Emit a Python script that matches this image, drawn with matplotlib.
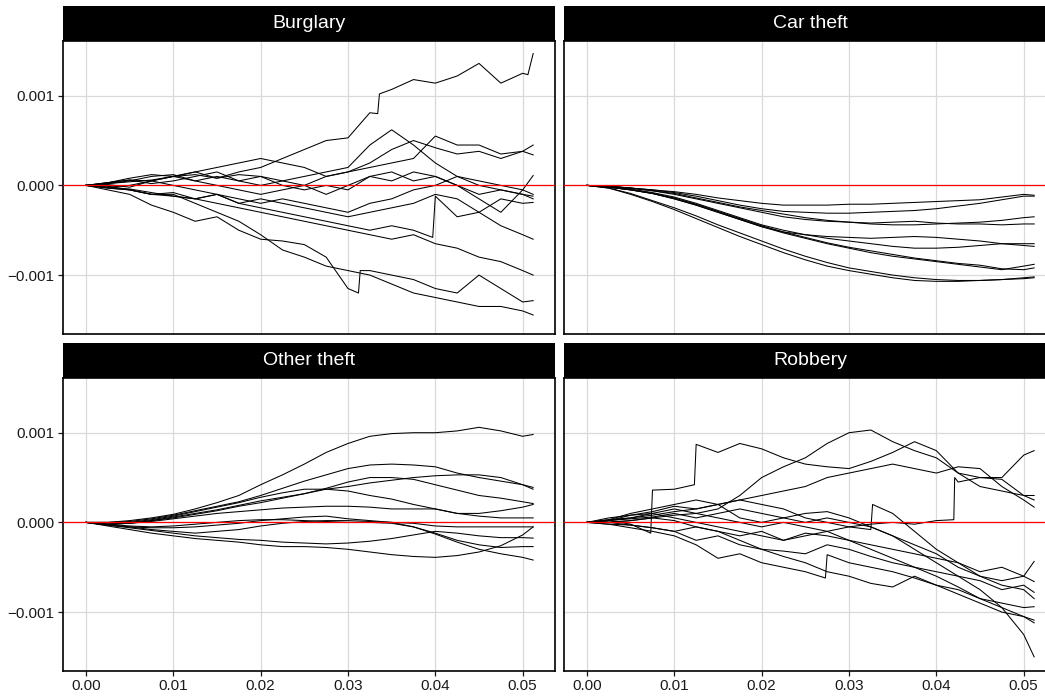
import matplotlib
matplotlib.use("Agg")
import matplotlib.pyplot as plt

plt.rcParams['font.family'] = ['Liberation Sans', 'DejaVu Sans']

# ---------------- data (y values in units of 0.001) ----------------
Y_UNIT = 1e-3
x_grid = [0.0, 0.0025, 0.005, 0.0075, 0.01, 0.0125, 0.015, 0.0175, 0.02, 0.0225,
          0.025, 0.0275, 0.03, 0.0325, 0.035, 0.0375, 0.04, 0.0425, 0.045, 0.0475,
          0.05, 0.0512]

panel_titles = ["Burglary", "Car theft", "Other theft", "Robbery"]

burglary = [
    [0, .03, .06, .05, .10, .12, .08, .15, .20, .30, .40, .50, .53, .81, 1.07, 1.18, 1.14, 1.22, 1.36, 1.14, 1.25, 1.47],
    [0, .02, .04, .06, .10, .15, .20, .25, .30, .25, .20, .10, .15, .25, .40, .50, .42, .35, .38, .30, .38, .45],
    [0, .02, .05, .10, .12, .05, .10, .05, .00, .05, .10, .15, .20, .45, .62, .45, .25, .10, .00, -.05, -.10, -.12],
    [0, .03, .08, .12, .10, .05, .00, -.05, -.10, -.05, .00, .10, .15, .20, .25, .30, .55, .45, .45, .35, .38, .34],
    [0, .01, -.02, .05, .10, .15, .08, .12, .10, .05, .00, -.10, .00, .10, .05, .15, .10, .00, -.15, -.30, -.05, .11],
    [0, -.02, .00, .05, .00, -.05, -.10, -.15, -.20, -.15, -.20, -.25, -.30, -.20, -.15, -.05, .00, .10, .05, .00, -.05, -.10],
    [0, .03, .06, .02, .05, .10, .15, .05, .10, .00, -.05, .00, -.05, .10, .15, .05, .10, .00, -.10, -.05, -.10, -.15],
    [0, -.01, -.05, -.10, -.08, -.15, -.10, -.20, -.25, -.30, -.35, -.40, -.45, -.50, -.45, -.50, -.12, -.35, -.30, -.15, -.20, -.19],
    [0, -.02, -.04, -.08, -.12, -.15, -.10, -.20, -.15, -.20, -.25, -.30, -.35, -.30, -.25, -.20, -.10, -.15, -.30, -.45, -.55, -.60],
    [0, -.03, -.05, -.10, -.12, -.15, -.20, -.25, -.30, -.35, -.40, -.45, -.50, -.55, -.60, -.55, -.65, -.70, -.80, -.85, -.95, -1.00],
    [0, -.05, -.10, -.22, -.30, -.40, -.35, -.50, -.60, -.62, -.66, -.80, -1.15, -.95, -1.00, -1.05, -1.15, -1.20, -1.00, -1.15, -1.30, -1.285],
    [0, -.03, -.05, -.10, -.10, -.20, -.30, -.40, -.55, -.72, -.80, -.90, -.95, -1.00, -1.10, -1.20, -1.25, -1.30, -1.35, -1.35, -1.40, -1.445],
]
# sudden jumps: line index -> [(x, y), ...]
burglary_jumps = {
    0: [(0.0334, .80), (0.0336, 1.02), (0.0506, 1.235)],
    7: [(0.0397, -.58)],
    10: [(0.0312, -1.20), (0.0314, -.95)],
}

car_theft = [
    [0, -.01, -.03, -.05, -.07, -.10, -.14, -.17, -.20, -.22, -.22, -.22, -.21, -.21, -.20, -.19, -.18, -.17, -.16, -.13, -.10, -.11],
    [0, -.01, -.03, -.05, -.08, -.12, -.17, -.22, -.26, -.29, -.30, -.31, -.31, -.30, -.29, -.28, -.26, -.23, -.20, -.16, -.12, -.12],
    [0, -.01, -.03, -.06, -.09, -.14, -.19, -.24, -.28, -.32, -.36, -.39, -.41, -.43, -.44, -.44, -.43, -.42, -.41, -.39, -.36, -.35],
    [0, -.01, -.03, -.06, -.10, -.15, -.20, -.25, -.30, -.35, -.38, -.40, -.41, -.42, -.41, -.40, -.42, -.43, -.43, -.44, -.43, -.43],
    [0, -.02, -.04, -.08, -.13, -.20, -.28, -.36, -.44, -.50, -.55, -.59, -.62, -.65, -.68, -.70, -.70, -.69, -.67, -.65, -.65, -.65],
    [0, -.02, -.05, -.09, -.15, -.22, -.30, -.38, -.46, -.52, -.55, -.57, -.58, -.59, -.58, -.57, -.58, -.60, -.62, -.65, -.67, -.68],
    [0, -.02, -.05, -.09, -.15, -.22, -.30, -.38, -.46, -.53, -.59, -.65, -.70, -.75, -.79, -.82, -.85, -.88, -.91, -.94, -.90, -.88],
    [0, -.02, -.05, -.09, -.14, -.21, -.29, -.37, -.45, -.52, -.58, -.64, -.69, -.73, -.77, -.81, -.84, -.87, -.89, -.93, -.94, -.92],
    [0, -.03, -.09, -.17, -.25, -.34, -.44, -.53, -.62, -.71, -.79, -.86, -.92, -.96, -1.00, -1.03, -1.05, -1.06, -1.06, -1.05, -1.03, -1.02],
    [0, -.03, -.10, -.18, -.27, -.37, -.47, -.57, -.66, -.75, -.83, -.90, -.95, -.99, -1.03, -1.06, -1.07, -1.07, -1.06, -1.05, -1.04, -1.03],
]
car_theft_jumps = {}

other_theft = [
    [0, .00, .02, .05, .09, .15, .22, .30, .42, .53, .65, .78, .88, .96, .99, 1.00, 1.00, 1.02, 1.06, 1.02, .96, .98],
    [0, .00, .01, .04, .08, .13, .18, .23, .30, .38, .46, .53, .60, .64, .65, .64, .62, .55, .50, .46, .42, .39],
    [0, -.02, -.01, .02, .06, .10, .14, .19, .24, .28, .32, .37, .40, .44, .47, .50, .52, .53, .53, .50, .42, .37],
    [0, -.02, -.01, .02, .05, .09, .13, .18, .22, .27, .32, .38, .45, .50, .50, .48, .42, .36, .30, .27, .23, .21],
    [0, -.02, .00, .03, .07, .12, .17, .22, .28, .33, .37, .37, .35, .30, .26, .20, .15, .10, .10, .13, .17, .20],
    [0, -.02, -.01, .01, .04, .07, .10, .12, .14, .16, .17, .18, .18, .17, .15, .15, .15, .10, .07, .05, .05, .05],
    [0, -.03, -.05, -.06, -.06, -.05, -.03, -.01, .02, .04, .06, .07, .04, .02, .00, -.01, -.04, -.05, -.05, -.05, -.05, -.05],
    [0, -.04, -.08, -.12, -.15, -.18, -.20, -.22, -.25, -.27, -.27, -.28, -.30, -.33, -.36, -.38, -.39, -.37, -.33, -.26, -.14, -.05],
    [0, -.03, -.06, -.09, -.12, -.15, -.17, -.19, -.20, -.22, -.23, -.24, -.23, -.21, -.18, -.14, -.10, -.12, -.15, -.17, -.17, -.175],
    [0, -.02, -.04, -.05, -.04, -.02, .00, .02, .03, .03, .02, .01, .00, .00, -.01, -.05, -.12, -.20, -.25, -.28, -.27, -.27],
    [0, -.03, -.05, -.08, -.10, -.12, -.10, -.08, -.04, -.01, .01, .02, .02, .01, .00, -.05, -.13, -.22, -.30, -.35, -.39, -.42],
]
other_theft_jumps = {}

robbery = [
    [0, .02, -.02, .36, .37, .87, .78, .88, .82, .72, .65, .62, .60, .68, .78, .90, .80, .55, .40, .35, .30, .30],
    [0, .00, .02, .05, .08, .10, .15, .30, .50, .62, .72, .88, 1.00, 1.03, .90, .80, .72, .55, .50, .48, .30, .25],
    [0, -.02, -.03, -.06, -.10, -.05, -.10, -.15, -.10, -.20, -.15, -.10, -.05, -.02, .00, -.02, .02, .45, .50, .50, .75, .80],
    [0, .02, .05, .08, .12, .15, .20, .25, .30, .35, .40, .50, .55, .60, .65, .60, .55, .62, .60, .40, .25, .17],
    [0, .03, .05, .10, .05, .00, -.05, -.10, -.15, -.20, -.12, -.15, -.20, -.25, -.30, -.35, -.40, -.45, -.55, -.50, -.60, -.435],
    [0, .02, .08, .12, .18, .15, .20, .05, .00, .05, .10, .12, .05, -.05, -.15, -.25, -.35, -.50, -.60, -.65, -.60, -.66],
    [0, .00, -.03, -.06, -.10, -.20, -.15, -.25, -.30, -.32, -.35, -.25, -.30, -.38, -.45, -.50, -.55, -.60, -.65, -.75, -.70, -.78],
    [0, -.02, -.06, -.10, -.15, -.25, -.40, -.35, -.45, -.50, -.55, -.36, -.45, -.50, -.55, -.62, -.70, -.75, -.85, -.90, -.95, -.94],
    [0, .00, .02, .05, .02, -.05, -.10, -.20, -.30, -.38, -.45, -.55, -.60, -.68, -.72, -.60, -.70, -.80, -.90, -1.00, -1.05, -1.09],
    [0, .05, .08, .10, .15, .10, .05, .00, -.05, .00, -.05, -.10, -.20, -.30, -.40, -.50, -.60, -.72, -.85, -.95, -1.05, -1.12],
    [0, .02, .04, .06, .10, .05, .10, .15, .10, .05, .00, .05, .00, -.05, -.15, -.30, -.45, -.60, -.75, -.95, -1.25, -1.50],
    [0, .03, .10, .15, .20, .25, .20, .25, .20, .15, .05, .00, -.05, -.08, .10, -.10, -.30, -.45, -.60, -.70, -.75, -.85],
]
robbery_jumps = {
    0: [(0.0073, -.12), (0.0123, .42)],
    2: [(0.0420, .03), (0.0421, .50)],
    7: [(0.0273, -.62)],
    11: [(0.0327, .20)],
}

x_ticks = [0.00, 0.01, 0.02, 0.03, 0.04, 0.05]
x_tick_labels = ["0.00", "0.01", "0.02", "0.03", "0.04", "0.05"]
y_ticks = [-0.001, 0.0, 0.001]
y_tick_labels = ["\u22120.001", "0.000", "0.001"]

# ---------------- layout ----------------
W, H = 1045, 696
fig = plt.figure(figsize=(W / 100, H / 100), dpi=100)
fig.patch.set_facecolor("white")


def rect(left, top, w, h):
    return [left / W, 1 - (top + h) / H, w / W, h / H]


PW, PH, SH = 492, 293, 35
layout = [(63, 41), (564, 41), (63, 378), (564, 378)]
series_all = [burglary, car_theft, other_theft, robbery]
jumps_all = [burglary_jumps, car_theft_jumps, other_theft_jumps, robbery_jumps]

for i, (title, series, jumps, (lx, ty)) in enumerate(
        zip(panel_titles, series_all, jumps_all, layout)):
    ax = fig.add_axes(rect(lx, ty, PW, PH))
    ax.set_xlim(-0.00263, 0.0537)
    ax.set_ylim(-0.001657, 0.001610)
    ax.set_xticks(x_ticks)
    ax.set_yticks(y_ticks)
    ax.grid(True, color="#D9D9D9", linewidth=0.9)
    ax.set_axisbelow(True)
    for j, ys in enumerate(series):
        pts = sorted(list(zip(x_grid, ys)) + jumps.get(j, []))
        ax.plot([p[0] for p in pts], [p[1] * Y_UNIT for p in pts],
                color="black", linewidth=0.75, zorder=2)
    ax.axhline(0.0, color="#FF0000", linewidth=0.9, zorder=3)
    for sp in ax.spines.values():
        sp.set_color("black")
        sp.set_linewidth(1.2)
    bottom_row = i >= 2
    left_col = i % 2 == 0
    ax.tick_params(axis="both", which="major", labelsize=11, colors="#1A1A1A",
                   length=3.5, width=0.9, pad=2.5)
    if bottom_row:
        ax.set_xticklabels(x_tick_labels)
    else:
        ax.tick_params(axis="x", length=0, labelbottom=False)
    if left_col:
        ax.set_yticklabels(y_tick_labels)
    else:
        ax.tick_params(axis="y", length=0, labelleft=False)

    sax = fig.add_axes(rect(lx, ty - SH, PW, SH))
    sax.set_facecolor("black")
    sax.set_xticks([])
    sax.set_yticks([])
    for sp in sax.spines.values():
        sp.set_visible(False)
    sax.text(0.5, 0.5, title, color="white", fontsize=14, ha="center", va="center",
             transform=sax.transAxes)

fig.savefig("out.png", dpi=100, facecolor="white")
